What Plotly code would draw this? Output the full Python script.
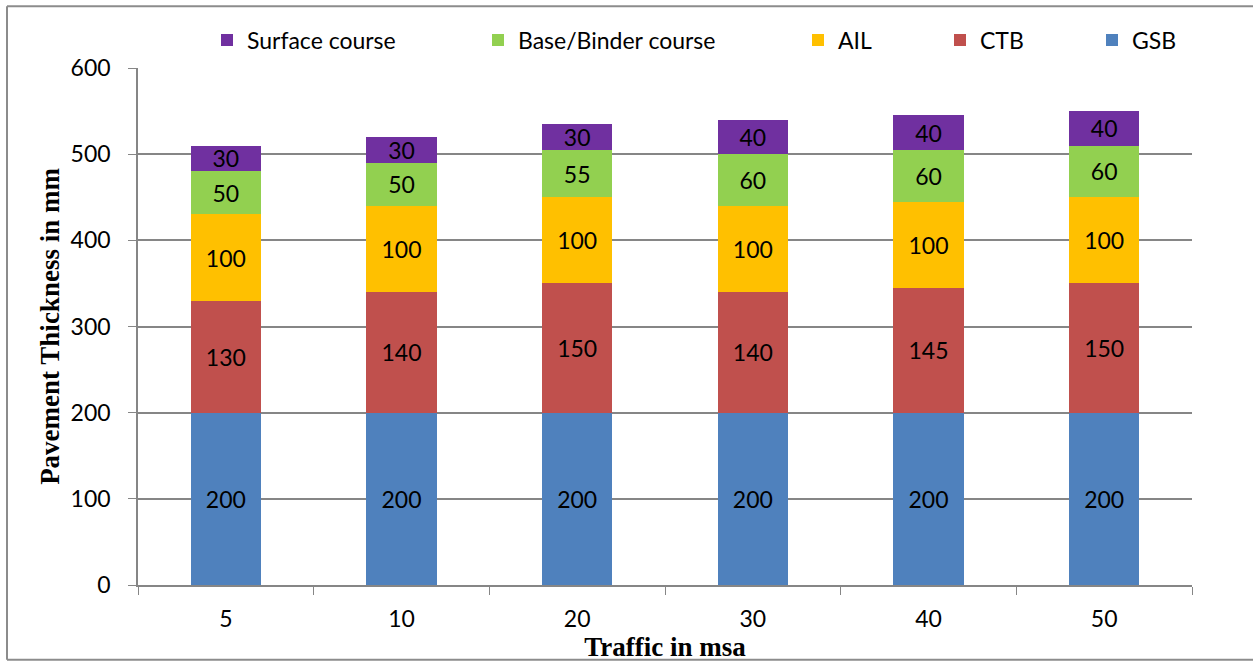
import plotly.graph_objects as go

traffic = ["5", "10", "20", "30", "40", "50"]
gsb = [200, 200, 200, 200, 200, 200]
ctb = [130, 140, 150, 140, 145, 150]
ail = [100, 100, 100, 100, 100, 100]
base_binder = [50, 50, 55, 60, 60, 60]
surface = [30, 30, 30, 40, 40, 40]

series = [
    ("GSB", gsb, "#4F81BD", "legend5", 1132),
    ("CTB", ctb, "#C0504D", "legend4", 980),
    ("AIL", ail, "#FFC000", "legend3", 838),
    ("Base/Binder course", base_binder, "#92D050", "legend2", 518),
    ("Surface course", surface, "#7030A0", "legend", 247),
]

W, H = 1253, 663
L, R, T, B = 138, 1192, 68, 587
FONT = "Lato, Carlito, Calibri, sans-serif"
SERIF = "Liberation Serif, Times New Roman, serif"
FS = 23

fig = go.Figure()
for name, vals, color, leg, _ in series:
    fig.add_trace(go.Bar(
        x=traffic, y=vals, name=name, marker_color=color,
        marker_line_width=0,
        text=vals, texttemplate="%{text}", textposition="inside",
        insidetextanchor="middle", textangle=0,
        textfont=dict(color="black", size=FS, family=FONT),
        legend=leg,
    ))

pw = R - L
ph = B - T
legends = {}
for name, vals, color, leg, tx in series:
    legends[leg] = dict(
        x=(tx - 40 - L) / pw, xanchor="left",
        y=1 + (T - 40) / ph, yanchor="middle",
        orientation="h", bgcolor="rgba(0,0,0,0)",
        font=dict(size=FS, family=FONT, color="black"),
    )

fig.update_layout(
    width=W, height=H,
    margin=dict(l=L, r=W - R, t=T, b=H - B),
    barmode="stack", bargap=0.6,
    plot_bgcolor="white", paper_bgcolor="white",
    font=dict(family=FONT, size=FS, color="black"),
    uniformtext=dict(minsize=FS, mode="show"),
    showlegend=True,
    **legends,
    xaxis=dict(
        showline=True, linecolor="#868686", linewidth=1.5,
        ticks="outside", tickson="boundaries", ticklen=8, tickcolor="#868686",
        tickfont=dict(size=FS, family=FONT, color="black"),
        ticklabelstandoff=13,
        title=dict(text="<b>Traffic in msa</b>", font=dict(family=SERIF, size=27, color="black"), standoff=0),
    ),
    yaxis=dict(
        range=[0, 600], dtick=100,
        showline=True, linecolor="#868686", linewidth=1.5,
        showgrid=True, gridcolor="#868686", gridwidth=1.5,
        ticks="outside", ticklen=8, tickcolor="#868686",
        tickfont=dict(size=FS, family=FONT, color="black"),
        ticklabelstandoff=13,
        zeroline=False,
        title=dict(text="<b>Pavement Thickness in mm</b>", font=dict(family=SERIF, size=27, color="black"), standoff=3),
    ),
)

# outer chart border (top, left, bottom; right edge lies outside the picture)
bx0, by0, by1 = (7 - L) / pw, (B - 662) / ph, 1 + (T - 6) / ph
for x0, y0, x1, y1 in [(bx0, by1, 2, by1), (bx0, by0, bx0, by1), (bx0, by0, 2, by0)]:
    fig.add_shape(type="line", xref="paper", yref="paper", x0=x0, y0=y0, x1=x1, y1=y1,
                  line=dict(color="#8c8c8c", width=2), layer="below")

fig.write_html(
    "out.html",
    config={"displayModeBar": False},
    post_script="document.body.style.margin='0px';document.body.style.overflow='hidden';",
)
